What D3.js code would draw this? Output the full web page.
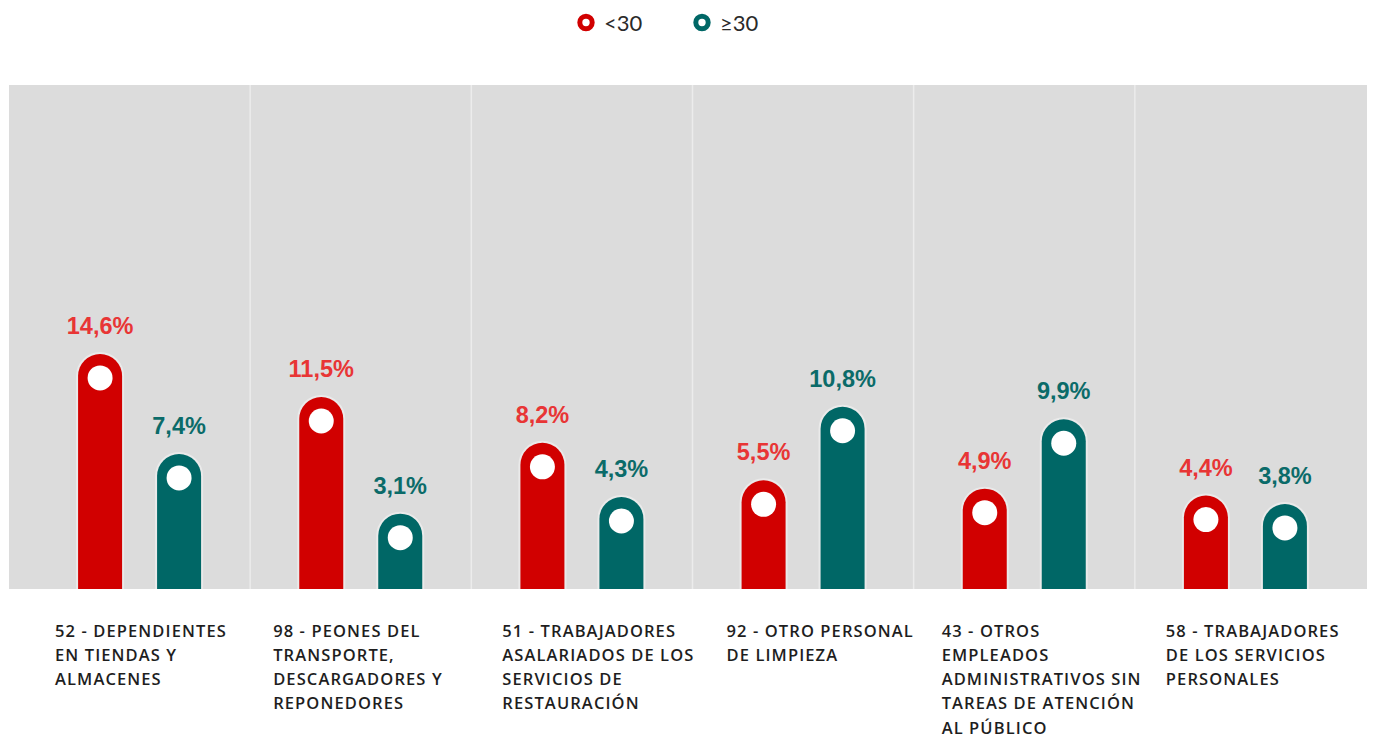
<!DOCTYPE html>
<html><head><meta charset="utf-8">
<script src="https://cdn.jsdelivr.net/npm/d3@7"></script>
<style>body{margin:0;background:#fff}svg{display:block}</style>
</head><body><svg id="c" width="1373" height="738"></svg>
<script>
const categories = ["52","98","51","92","43","58"];
const categoryLabels = [
  ["52 - DEPENDIENTES","EN TIENDAS Y","ALMACENES"],
  ["98 - PEONES DEL","TRANSPORTE,","DESCARGADORES Y","REPONEDORES"],
  ["51 - TRABAJADORES","ASALARIADOS DE LOS","SERVICIOS DE","RESTAURACIÓN"],
  ["92 - OTRO PERSONAL","DE LIMPIEZA"],
  ["43 - OTROS","EMPLEADOS","ADMINISTRATIVOS SIN","TAREAS DE ATENCIÓN","AL PÚBLICO"],
  ["58 - TRABAJADORES","DE LOS SERVICIOS","PERSONALES"]
];
const seriesNames = ["<30","≥30"];
const under30 = [14.6, 11.5, 8.2, 5.5, 4.9, 4.4];
const over30  = [7.4, 3.1, 4.3, 10.8, 9.9, 3.8];
const colors = {bar:["#d10000","#006766"], text:["#e83535","#0b6b69"]};

const svg = d3.select("#c");
const baseY = 589, panelTop = 85;
const x0 = d3.scaleBand().domain(categories).range([29, 1356]).paddingInner(0).paddingOuter(0);
const x1 = d3.scaleBand().domain(seriesNames).range([0, 123]).paddingInner(0.443).paddingOuter(0);
const y = d3.scaleLinear().domain([-2.325, 15]).range([baseY, 348.4]);
const fmt = v => d3.format(".1f")(v).replace(".", ",") + "%";

// background panel
svg.append("rect").attr("x", 9).attr("y", panelTop).attr("width", 1358).attr("height", baseY - panelTop).attr("fill", "#dcdcdc");
svg.selectAll("line.sep").data(categories.slice(1)).join("line")
  .attr("x1", d => x0(d)).attr("x2", d => x0(d)).attr("y1", panelTop).attr("y2", baseY)
  .attr("stroke", "#ececec").attr("stroke-width", 1.5);

const bw = x1.bandwidth(), r = bw / 2;
const rows = [];
categories.forEach((c, i) => {
  [under30[i], over30[i]].forEach((v, s) => rows.push({c, s, v}));
});
const g = svg.append("g");
const groupOff = (x0.bandwidth() - 123) / 2;
const bx = d => x0(d.c) + groupOff + x1(seriesNames[d.s]);
const capPath = d => {
  const x = bx(d), t = y(d.v);
  return `M${x},${baseY}V${t + r}A${r},${r} 0 0 1 ${x + bw},${t + r}V${baseY}Z`;
};
g.selectAll("path.glow").data(rows).join("path").attr("class", "glow").attr("d", capPath)
  .attr("fill", "none").attr("stroke", "#ffffff").attr("stroke-opacity", 0.4).attr("stroke-width", 4);
g.selectAll("path.bar").data(rows).join("path").attr("class", "bar").attr("d", capPath)
  .attr("fill", d => colors.bar[d.s]);
g.selectAll("circle.dot").data(rows).join("circle").attr("class", "dot")
  .attr("cx", d => bx(d) + r).attr("cy", d => y(d.v) + 24).attr("r", 12.5).attr("fill", "#fff");
g.selectAll("text.val").data(rows).join("text").attr("class", "val")
  .attr("x", d => bx(d) + r).attr("y", d => y(d.v) - 20)
  .attr("text-anchor", "middle").attr("font-family", "Liberation Sans, Arial, sans-serif")
  .attr("font-weight", "bold").attr("font-size", 23.5).attr("fill", d => colors.text[d.s])
  .text(d => fmt(d.v));

// category labels
const labOff = [26, 23, 31, 34, 28, 31];
categories.forEach((c, i) => {
  const t = svg.append("text").attr("font-family", "Open Sans, sans-serif").attr("font-weight", 600)
    .attr("font-size", 16.5).attr("letter-spacing", 1.1).attr("fill", "#1e1e1e");
  t.selectAll("tspan").data(categoryLabels[i]).join("tspan")
    .attr("x", x0(c) + labOff[i]).attr("y", (d, j) => 636.5 + j * 24.3).text(d => d);
});

// legend
const legX = [586, 702];
seriesNames.forEach((n, i) => {
  svg.append("circle").attr("cx", legX[i]).attr("cy", 22.5).attr("r", 6.2)
    .attr("fill", "none").attr("stroke", colors.bar[i]).attr("stroke-width", 5);
  svg.append("text").attr("x", legX[i] + 18).attr("y", 30.5).attr("font-family", "Lato, sans-serif")
    .attr("font-weight", 400).attr("font-size", 22).attr("fill", "#2a2a2a").text(n);
});
</script></body></html>
